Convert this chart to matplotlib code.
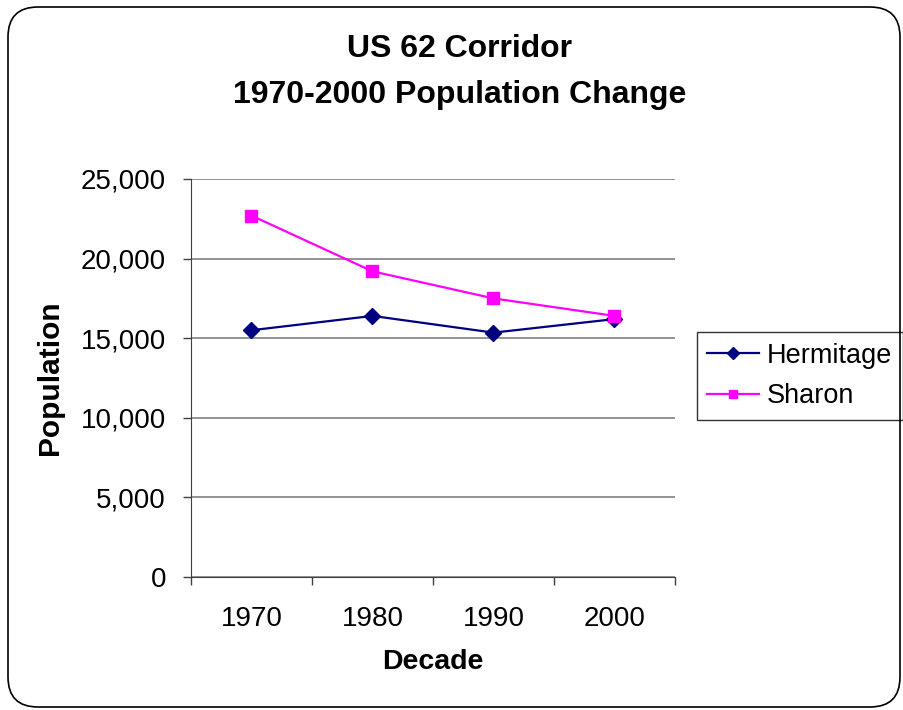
import matplotlib
matplotlib.use("Agg")
import matplotlib.pyplot as plt
from matplotlib.patches import FancyBboxPatch
from matplotlib.ticker import FuncFormatter, FixedLocator

# data
decades = ["1970", "1980", "1990", "2000"]
hermitage = [15500, 16400, 15350, 16200]
sharon = [22700, 19200, 17500, 16400]
y_ticks = [0, 5000, 10000, 15000, 20000, 25000]

plt.rcParams['font.family'] = ['Liberation Sans', 'DejaVu Sans']

fig = plt.figure(figsize=(9.04, 7.10), dpi=100)
ax = fig.add_axes([191/904, 133/710, 484/904, 398/710])

# rounded chart-area border
border = FancyBboxPatch((0.08, 0.03), 8.92, 7.0,
                        boxstyle="round,pad=0,rounding_size=0.3",
                        transform=fig.dpi_scale_trans, fill=False,
                        edgecolor="black", linewidth=1.2)
fig.patches.append(border)

x = range(len(decades))
ax.plot(x, hermitage, color="#000080", marker="D", markersize=8,
        linewidth=1.6, label="Hermitage")
ax.plot(x, sharon, color="#FF00FF", marker="s", markersize=8,
        linewidth=1.6, label="Sharon")

ax.set_xlim(-0.5, 3.5)
ax.set_ylim(0, 25000)
ax.set_yticks(y_ticks)
ax.yaxis.set_major_formatter(FuncFormatter(lambda v, p: f"{int(v):,}"))
ax.grid(True, axis="y", color="#808080", linewidth=1.2)
ax.set_axisbelow(True)

# category labels between boundary ticks
ax.set_xticks([0, 1, 2, 3])
ax.set_xticklabels(decades)
ax.xaxis.set_minor_locator(FixedLocator([-0.5, 0.5, 1.5, 2.5, 3.5]))
ax.tick_params(axis="x", which="major", length=0, pad=21, labelsize=20)
ax.tick_params(axis="x", which="minor", length=6, width=1, color="#404040",
               direction="out")
ax.tick_params(axis="y", length=6, width=1, color="#404040", pad=12,
               labelsize=20)

for s in ["top", "right"]:
    ax.spines[s].set_visible(False)
ax.spines["left"].set_color("#404040")
ax.spines["bottom"].set_color("#404040")

ax.set_xlabel("Decade", fontsize=20.5, fontweight="bold", labelpad=12)
ax.set_ylabel("Population", fontsize=21.5, fontweight="bold", labelpad=12)

fig.text(460/904, 1 - 72/710, "US 62 Corridor\n1970-2000 Population Change",
         ha="center", va="center", fontsize=23, fontweight="bold",
         linespacing=1.68)

ax.legend(loc="center left", bbox_to_anchor=(697/904, 1 - 376/710),
          bbox_transform=fig.transFigure, fontsize=19.5, frameon=True,
          fancybox=False, edgecolor="black", handlelength=1.9,
          handletextpad=0.3, borderpad=0.38, labelspacing=0.55,
          markerscale=0.8, borderaxespad=0)

fig.savefig("out.png", dpi=100)
